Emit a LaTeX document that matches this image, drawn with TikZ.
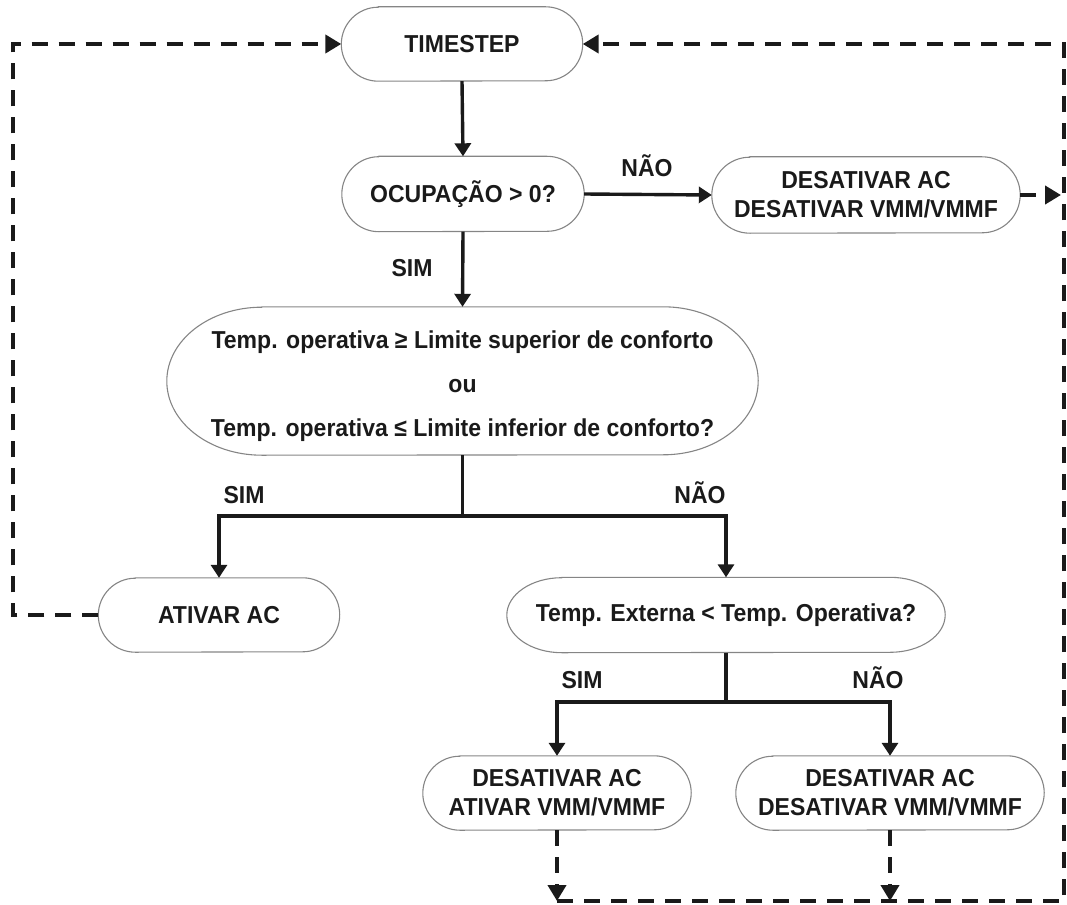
\documentclass[tikz,border=0pt]{standalone}
\usepackage{fontspec}
\setmainfont{Liberation Sans}[FakeStretch=0.94]
\usetikzlibrary{arrows.meta,calc}
\definecolor{ink}{HTML}{1A1A1A}
\definecolor{rim}{HTML}{858585}

% capsule node: name, centre, width, height, cap x-radius, text
\newcommand{\flowcap}[6]{%
  \node[box, minimum width=#3pt, minimum height=#4pt] (#1) at #2 {#6};
  \draw[rim line] ([xshift=#5pt]#1.north west) -- ([xshift=-#5pt]#1.north east)
     arc[start angle=90, end angle=-90, x radius=#5pt, y radius=#4pt/2]
     -- ([xshift=#5pt]#1.south west)
     arc[start angle=270, end angle=90, x radius=#5pt, y radius=#4pt/2] -- cycle;
}

\tikzset{
  box/.style={draw=none, inner sep=0pt, align=center, text=ink,
              font=\fontsize{24.5}{29}\selectfont\bfseries},
  rim line/.style={draw=rim, line width=1.1pt},
  lbl/.style={inner sep=0pt, anchor=base, text=ink,
              font=\fontsize{24.5}{29}\selectfont\bfseries},
  flow/.style={draw=ink, line width=3.4pt,
               -{Triangle[length=13pt,width=16pt]}},
  plainflow/.style={draw=ink, line width=3.4pt},
  back/.style={draw=ink, line width=4pt, dash pattern=on 16pt off 11pt},
  backarrow/.style={back, -{Triangle[length=16pt,width=18pt]}},
}

\begin{document}
\begin{tikzpicture}[x=1pt, y=-1pt]
\useasboundingbox (0,0) rectangle (1067,904);

% decision and action boxes
\flowcap{ts}{(462,44)}{241}{74}{37}{TIMESTEP}
\flowcap{oc}{(463,194)}{242}{75}{37}{OCUPAÇÃO > 0?}
\flowcap{d1}{(866,195)}{308}{76}{38}{DESATIVAR AC\\DESATIVAR VMM/VMMF}
\flowcap{big}{(462.5,381)}{591}{148}{95}{%
  \rule{0pt}{29pt}Temp. operativa ≥ Limite superior de conforto\\[15pt]
  ou\\[15pt]
  Temp. operativa ≤ Limite inferior de conforto?}
\flowcap{at}{(219,615)}{241}{74}{37}{ATIVAR AC}
\flowcap{te}{(726,615)}{438}{75}{55}{Temp. Externa < Temp. Operativa?}
\flowcap{b1}{(557,793)}{268}{74}{37}{DESATIVAR AC\\ATIVAR VMM/VMMF}
\flowcap{b2}{(890,793)}{308}{74}{37}{DESATIVAR AC\\DESATIVAR VMM/VMMF}

% branch labels
\node[lbl] (nao1) at (647,177) {NÃO};
\node[lbl] (sim1) at (412,276) {SIM};
\node[lbl] (sim2) at (244,503) {SIM};
\node[lbl] (nao2) at (700,503) {NÃO};
\node[lbl] (sim3) at (582,688) {SIM};
\node[lbl] (nao3) at (878,688) {NÃO};

% helper points for the junctions and the return loops
\coordinate (j1) at (462.5,516);
\coordinate (j2) at (726,702);
\coordinate (lc) at (13,44);
\coordinate (rc) at (1064,901);
\coordinate (rt) at (1061,0);

% main flow
\draw[flow] (ts.south) -- (oc.north);
\draw[flow] (oc.east) -- (d1.west);
\draw[flow] (oc.south) -- (big.north);
\draw[plainflow] (big.south) -- (j1);
\draw[flow] ([xshift=1.7pt]j1) -| (at.north);
\draw[flow] ([xshift=-1.7pt]j1) -| (te.north);
\draw[plainflow] (te.south) -- (j2);
\draw[flow] ([xshift=1.7pt]j2) -| (b1.north);
\draw[flow] ([xshift=-1.7pt]j2) -| (b2.north);

% return paths to the next time step
\draw[backarrow] (at.west) -| (lc) |- (ts.west);
\draw[backarrow] (d1.east) -- (d1.east -| rt);
\draw[backarrow] (b1.south) -- (b1.south |- rc);
\draw[backarrow] (b2.south) -- (b2.south |- rc);
\draw[backarrow] (b1.south |- rc) -- (rc) |- (ts.east);
\end{tikzpicture}
\end{document}
